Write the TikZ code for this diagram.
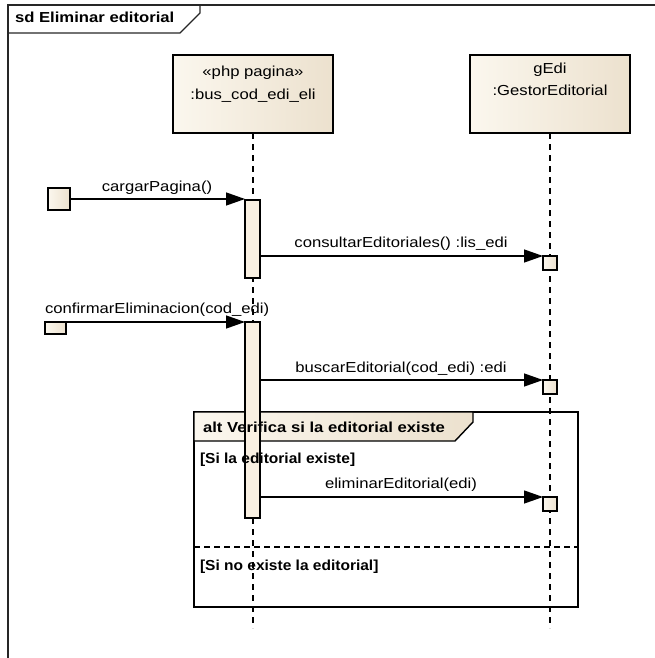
\documentclass[tikz,border=0pt]{standalone}
\usepackage{fontspec}
\setmainfont{Liberation Sans}[FakeStretch=1.15]
\newfontfamily\guardfont{Liberation Sans}[FakeStretch=1.07]
\usetikzlibrary{arrows.meta}
\definecolor{beigeL}{RGB}{251,247,238}
\definecolor{beigeR}{RGB}{236,225,206}
\definecolor{actfill}{RGB}{249,240,226}
\begin{document}
\begin{tikzpicture}[x=1pt,y=-1pt,
  every node/.style={font=\fontsize{14.5}{17}\selectfont, inner sep=0pt, outer sep=0pt},
  headbox/.style={draw, line width=1.8pt, minimum width=160pt, minimum height=78pt, left color=beigeL, right color=beigeR, anchor=north west},
  actbox/.style={draw, line width=1.5pt, fill=actfill, minimum width=15pt, anchor=north west},
  recbox/.style={draw, line width=1.5pt, left color=beigeL, right color=beigeR, minimum width=14pt, minimum height=14pt, anchor=north west},
  gatebox/.style={draw, line width=1.5pt, left color=beigeL, right color=beigeR, anchor=north west},
  lifeline/.style={line width=1.3pt, dash pattern=on 6pt off 5pt},
  msg/.style={line width=1.3pt, -{Triangle[length=19pt,width=13pt]}},
  lbl/.style={anchor=base},
  boldlbl/.style={anchor=base west, font=\fontsize{14.5}{17}\selectfont\bfseries},
  guardlbl/.style={anchor=base west, font=\fontsize{14.5}{17}\selectfont\guardfont\bfseries}
]
\useasboundingbox (0,0) rectangle (655,658);

% outer sd frame
\draw[line width=1.2pt, black!85] (655,5) -- (8,5) -- (8,658);
\draw[line width=1.2pt, black!85] (8,33) -- (180,33) -- (200,13) -- (200,5);
\node[boldlbl] (sdlabel) at (15,23) {sd Eliminar editorial};

% alt fragment
\node[draw, line width=1.6pt, minimum width=384pt, minimum height=195pt, anchor=north west] (alt) at (194,412) {};
\draw[line width=1.4pt, left color=beigeL, right color=beigeR] (194,412) -- (473,412) -- (473,422) -- (455,441) -- (194,441) -- cycle;
\draw[line width=1.3pt, dash pattern=on 6pt off 4pt] (194,547) -- (578,547);

% lifeline heads
\node[headbox] (h1) at (173,55) {};
\node[headbox] (h2) at (470,55) {};
\node[lbl] (h1a) at (253,77) {«php pagina»};
\node[lbl] (h1b) at (253,100) {:bus\_cod\_edi\_eli};
\node[lbl] (h2a) at (550,74) {gEdi};
\node[lbl] (h2b) at (550,96) {:GestorEditorial};

% lifelines
\coordinate (e1) at (253,628);
\coordinate (e2) at (550,628);
\draw[lifeline] (h1.south) -- (e1);
\draw[lifeline] (h2.south) -- (e2);

% activations
\node[actbox, minimum height=78pt] (a1) at (245,200) {};
\node[actbox, minimum height=196pt] (a2) at (245,322) {};

% receiving boxes
\node[recbox] (r1) at (543,256) {};
\node[recbox] (r2) at (543,380) {};
\node[recbox] (r3) at (543,497) {};

% gates
\node[gatebox, minimum width=22pt, minimum height=22pt] (g1) at (48,188) {};
\node[gatebox, minimum width=21pt, minimum height=12pt] (g2) at (45,322) {};

% messages
\draw[msg] (g1.east) -- (g1.east -| a1.west);
\draw[msg] (r1.north west -| a1.east) -- (r1.north west);
\draw[msg] (g2.north east) -- (a2.north west);
\draw[msg] (r2.north west -| a2.east) -- (r2.north west);
\draw[msg] (r3.north west -| a2.east) -- (r3.north west);

% labels
\node[lbl] (m1) at (157,191) {cargarPagina()};
\node[lbl] (m2) at (401,247) {consultarEditoriales() :lis\_edi};
\node[anchor=base west] (m3) at (45,313) {confirmarEliminacion(cod\_edi)};
\node[lbl] (m4) at (401,372) {buscarEditorial(cod\_edi) :edi};
\node[lbl] (m5) at (401,488) {eliminarEditorial(edi)};
\node[boldlbl] (altlbl) at (203,432) {alt Verifica si la editorial existe};
\node[guardlbl] (g1lbl) at (200,463) {[Si la editorial existe]};
\node[guardlbl] (g2lbl) at (200,570) {[Si no existe la editorial]};
\end{tikzpicture}
\end{document}
